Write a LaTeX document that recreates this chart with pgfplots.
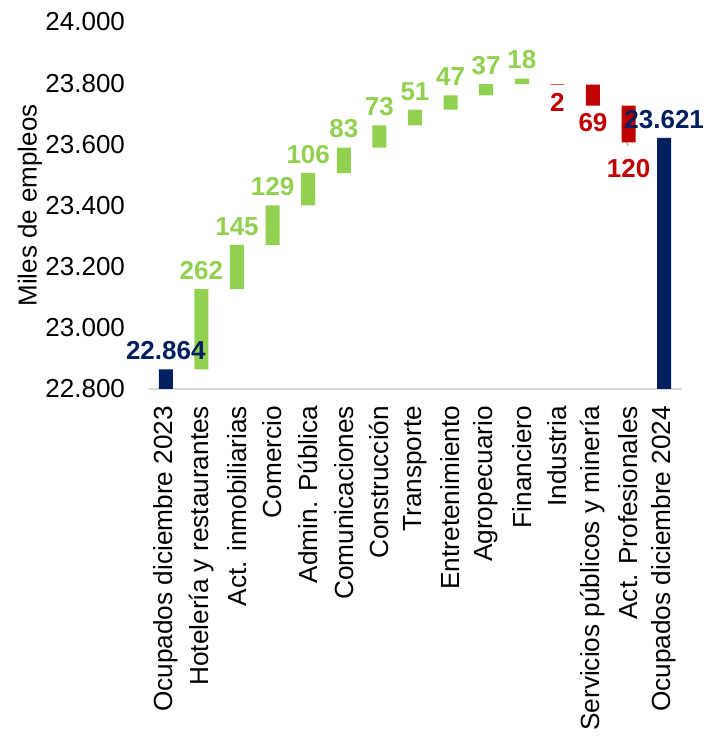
\documentclass[border=0pt]{standalone}
\usepackage{fontspec}
\setmainfont{Liberation Sans}
\usepackage{pgfplots}
\pgfplotsset{compat=1.18}
\usepackage{pgfplotstable}
\definecolor{verde}{HTML}{92D050}
\definecolor{rojo}{HTML}{C00000}
\definecolor{azul}{HTML}{002060}

% waterfall: invisible base + visible segment
\pgfplotstableread{
x  base  green red navy
0  0     0     0   22864
1  22864 262   0   0
2  23126 145   0   0
3  23271 129   0   0
4  23400 106   0   0
5  23506 83    0   0
6  23589 73    0   0
7  23662 51    0   0
8  23713 47    0   0
9  23760 37    0   0
10 23797 18    0   0
11 23795 0     2   0
12 23726 0     69  0
13 23606 0     120 0
14 0     0     0   23621
}\datos

% labels: position (bar top for gains, bar bottom for losses)
\pgfplotstableread{
x  y     lab
1  23126 262
2  23271 145
3  23400 129
4  23506 106
5  23589 83
6  23662 73
7  23713 51
8  23760 47
9  23797 37
10 23815 18
}\labverde
\pgfplotstableread{
x  y     lab    dy
11 23795 2      -1
12 23726 69     0
13 23606 120    -5
}\labrojo
\pgfplotstableread{
x  y     lab
0  22864 22.864
14 23621 23.621
}\labazul

\begin{document}
\begin{tikzpicture}
\path[use as bounding box] (-74pt,-173.5pt) rectangle (286.5pt,194.5pt);
\begin{axis}[
  at={(0,0)}, anchor=south west,
  scale only axis, width=267pt, height=183.5pt,
  ybar stacked, bar width=7pt,
  xmin=-0.5, xmax=14.5, ymin=22800, ymax=24000,
  ytick={22800,23000,...,24000},
  scaled y ticks=false,
  xtick={0,...,14},
  xticklabels={{Ocupados diciembre 2023},{Hotelería y restaurantes},{Act. inmobiliarias},{Comercio},{Admin. Pública},{Comunicaciones},{Construcción},{Transporte},{Entretenimiento},{Agropecuario},{Financiero},{Industria},{Servicios públicos y minería},{Act. Profesionales},{Ocupados diciembre 2024}},
  tick label style={text=black},
  xticklabel style={font=\fontsize{13.1}{15}\selectfont, yshift=-5pt, rotate=90, anchor=east},
  yticklabel style={font=\fontsize{13}{15}\selectfont, xshift=-8pt, /pgf/number format/1000 sep={.}, /pgf/number format/assume math mode=true},
  tick style={draw=none},
  major tick length=0pt,
  axis x line*=bottom, axis y line*=left,
  x axis line style={draw=black!15, line width=0.8pt},
  y axis line style={draw=none},
  ylabel={Miles de empleos},
  every axis y label/.style={at={(axis description cs:-0.221,0.5)}, rotate=90, anchor=center, font=\fontsize{13}{15}\selectfont},
]
\addplot[fill=none, draw=none] table[x=x, y=base] {\datos};
\addplot[fill=verde, draw=none] table[x=x, y=green] {\datos};
\addplot[fill=rojo, draw=none] table[x=x, y=red] {\datos};
\addplot[fill=azul, draw=none] table[x=x, y=navy] {\datos};
\draw[black!25, line width=0.8pt] (axis cs:12.81,23665) -- (axis cs:12.98,23595);
\end{axis}
\begin{axis}[
  at={(0,0)}, anchor=south west,
  scale only axis, width=267pt, height=183.5pt,
  xmin=-0.5, xmax=14.5, ymin=22800, ymax=24000,
  hide axis, clip=false,
  point meta=explicit symbolic,
  nodes near coords,
]
\addplot[only marks, mark=*, mark size=0pt, draw opacity=0, fill opacity=0,
  every node near coord/.style={anchor=south, yshift=1.2pt, text=verde, text opacity=1, font=\fontsize{13}{15}\selectfont\bfseries}]
  table[x=x, y=y, meta=lab] {\labverde};
\addplot[only marks, mark=*, mark size=0pt, draw opacity=0, fill opacity=0,
  visualization depends on={\thisrow{dy} \as \dy},
  every node near coord/.style={anchor=north, yshift=\dy pt, text=rojo, text opacity=1, font=\fontsize{13}{15}\selectfont\bfseries}]
  table[x=x, y=y, meta=lab] {\labrojo};
\addplot[only marks, mark=*, mark size=0pt, draw opacity=0, fill opacity=0,
  every node near coord/.style={anchor=south, yshift=1.2pt, text=azul, text opacity=1, font=\fontsize{13}{15}\selectfont\bfseries}]
  table[x=x, y=y, meta=lab] {\labazul};
\end{axis}
\end{tikzpicture}
\end{document}
